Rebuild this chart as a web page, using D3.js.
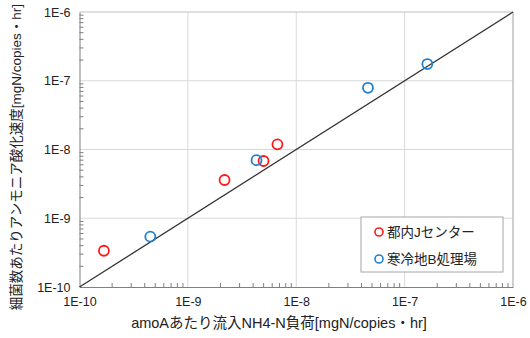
<!DOCTYPE html>
<html>
<head>
<meta charset="utf-8">
<script src="https://cdn.jsdelivr.net/npm/d3@7"></script>
<style>
  body { margin: 0; background: #fff; }
  svg text { font-family: "Liberation Sans", Arial, "Noto Sans CJK JP", sans-serif; fill: #222; }
</style>
</head>
<body>
<script>
// 都内Jセンター
const tokyoX = [1.68e-10, 2.18e-9, 4.99e-9, 6.7e-9];
const tokyoY = [3.37e-10, 3.6e-9, 6.8e-9, 1.19e-8];
// 寒冷地B処理場
const coldX = [4.5e-10, 4.3e-9, 4.59e-8, 1.62e-7];
const coldY = [5.4e-10, 7.0e-9, 7.9e-8, 1.75e-7];

const decades = [1e-10, 1e-9, 1e-8, 1e-7, 1e-6];
const tickLabels = ["1E-10", "1E-9", "1E-8", "1E-7", "1E-6"];
const seriesNames = ["都内Jセンター", "寒冷地B処理場"];
const seriesColors = ["#ff1a1a", "#1f80d0"];

const W = 530, H = 338;
const margin = { top: 12, right: 17, bottom: 51, left: 79.5 };

const svg = d3.select("body").append("svg")
    .attr("width", W)
    .attr("height", H);

const x = d3.scaleLog().domain([1e-10, 1e-6]).range([margin.left, W - margin.right]);
const y = d3.scaleLog().domain([1e-10, 1e-6]).range([H - margin.bottom, margin.top]);

// minor ticks between decades
const minor = [];
decades.slice(0, -1).forEach(d => {
    for (let k = 2; k <= 9; k++) minor.push(d * k);
});

// gridlines
svg.append("g")
    .selectAll("line")
    .data(decades.slice(1, -1))
    .join("line")
    .attr("x1", d => x(d)).attr("x2", d => x(d))
    .attr("y1", y.range()[0]).attr("y2", y.range()[1])
    .attr("stroke", "#d9d9d9");

svg.append("g")
    .selectAll("line")
    .data(decades.slice(1, -1))
    .join("line")
    .attr("y1", d => y(d)).attr("y2", d => y(d))
    .attr("x1", x.range()[0]).attr("x2", x.range()[1])
    .attr("stroke", "#d9d9d9");

// top and right border
svg.append("line")
    .attr("x1", x.range()[0]).attr("x2", x.range()[1])
    .attr("y1", y.range()[1]).attr("y2", y.range()[1])
    .attr("stroke", "#bfbfbf");
svg.append("line")
    .attr("x1", x.range()[1]).attr("x2", x.range()[1])
    .attr("y1", y.range()[0]).attr("y2", y.range()[1])
    .attr("stroke", "#bfbfbf").attr("stroke-width", 1.5);

// axes
const xAxis = svg.append("g")
    .attr("transform", `translate(0,${y.range()[0]})`)
    .call(d3.axisBottom(x).tickValues(decades).tickFormat((d, i) => tickLabels[i]).tickSize(0).tickPadding(10));
xAxis.select(".domain").attr("stroke", "#7f7f7f");
xAxis.selectAll("text").attr("font-size", 12.5).attr("fill", "#222");

xAxis.append("g")
    .selectAll("line")
    .data(minor)
    .join("line")
    .attr("x1", d => x(d)).attr("x2", d => x(d))
    .attr("y1", 0).attr("y2", -4)
    .attr("stroke", "#7f7f7f");

const yAxis = svg.append("g")
    .attr("transform", `translate(${x.range()[0]},0)`)
    .call(d3.axisLeft(y).tickValues(decades).tickFormat((d, i) => tickLabels[i]).tickSize(0).tickPadding(9));
yAxis.select(".domain").attr("stroke", "#7f7f7f");
yAxis.selectAll("text").attr("font-size", 12.5).attr("fill", "#222");

yAxis.append("g")
    .selectAll("line")
    .data(minor)
    .join("line")
    .attr("y1", d => y(d)).attr("y2", d => y(d))
    .attr("x1", 0).attr("x2", 4)
    .attr("stroke", "#7f7f7f");

// 1:1 line
svg.append("line")
    .attr("x1", x(1e-10)).attr("y1", y(1e-10))
    .attr("x2", x(1e-6)).attr("y2", y(1e-6))
    .attr("stroke", "#333")
    .attr("stroke-width", 1.3);

// points
const series = [
    { xs: tokyoX, ys: tokyoY },
    { xs: coldX, ys: coldY },
];
series.forEach((s, si) => {
    svg.append("g")
        .selectAll("circle")
        .data(s.xs.map((v, i) => [v, s.ys[i]]))
        .join("circle")
        .attr("cx", d => x(d[0]))
        .attr("cy", d => y(d[1]))
        .attr("r", 5)
        .attr("fill", "none")
        .attr("stroke", seriesColors[si])
        .attr("stroke-width", 1.8);
});

// axis titles
svg.append("text")
    .attr("x", 279)
    .attr("y", 328)
    .attr("text-anchor", "middle")
    .attr("font-size", 14.5)
    .text("amoAあたり流入NH4-N負荷[mgN/copies・hr]");

svg.append("text")
    .attr("transform", `translate(21,157) rotate(-90)`)
    .attr("text-anchor", "middle")
    .attr("font-size", 13.5)
    .text("細菌数あたりアンモニア酸化速度[mgN/copies・hr]");

// legend
const legend = svg.append("g").attr("transform", "translate(361,217)");
legend.append("rect")
    .attr("width", 142).attr("height", 55)
    .attr("fill", "#fff")
    .attr("stroke", "#a6a6a6");
seriesNames.forEach((name, i) => {
    const row = legend.append("g").attr("transform", `translate(0,${15 + i * 27})`);
    row.append("circle")
        .attr("cx", 18).attr("cy", 0).attr("r", 4)
        .attr("fill", "none")
        .attr("stroke", seriesColors[i])
        .attr("stroke-width", 1.6);
    row.append("text")
        .attr("x", 26).attr("y", 5)
        .attr("font-size", 13.5)
        .text(name);
});
</script>
</body>
</html>
